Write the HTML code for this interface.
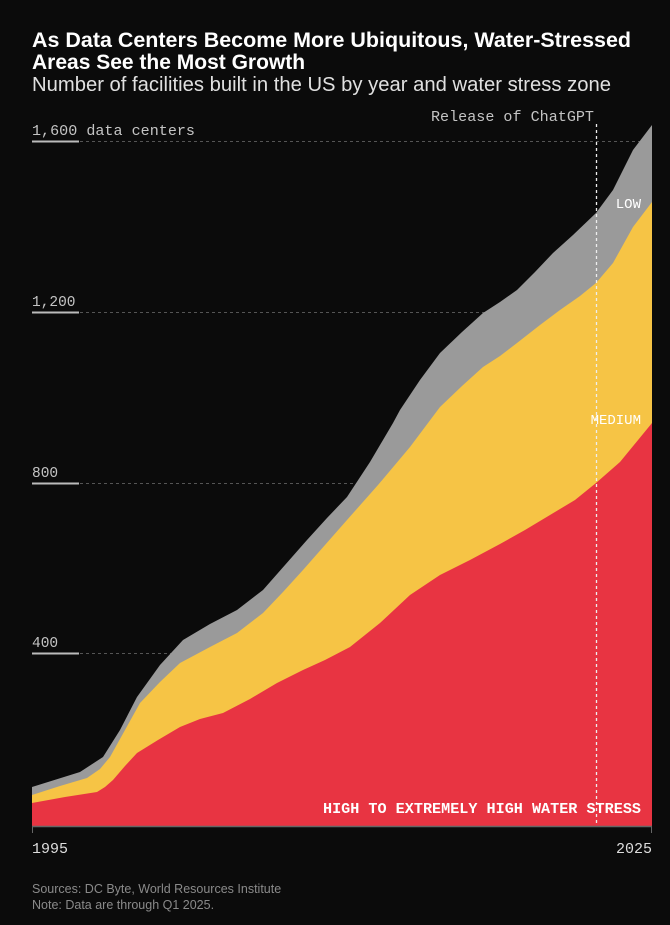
<!DOCTYPE html>
<html><head><meta charset="utf-8"><style>
body{margin:0;background:#0b0b0b;width:670px;height:920px;overflow:hidden;font-family:"Liberation Sans",sans-serif}
</style></head><body>
<svg width="670" height="920" xmlns="http://www.w3.org/2000/svg">
<rect width="670" height="920" fill="#0b0b0b"/>
<text x="32" y="47" fill="#fff" font-size="21" font-weight="bold" font-family="Liberation Sans, sans-serif" textLength="599" lengthAdjust="spacingAndGlyphs">As Data Centers Become More Ubiquitous, Water-Stressed</text>
<text x="32" y="69" fill="#fff" font-size="21" font-weight="bold" font-family="Liberation Sans, sans-serif">Areas See the Most Growth</text>
<text x="32" y="91" fill="#e0e0e0" font-size="20" font-family="Liberation Sans, sans-serif" textLength="579" lengthAdjust="spacingAndGlyphs">Number of facilities built in the US by year and water stress zone</text>
<g stroke="#555" stroke-dasharray="3,3" stroke-width="1">
<line x1="80" y1="141.5" x2="651" y2="141.5"/>
<line x1="80" y1="312.5" x2="651" y2="312.5"/>
<line x1="80" y1="483.5" x2="651" y2="483.5"/>
<line x1="80" y1="653.5" x2="651" y2="653.5"/>
</g>
<g stroke="#bbb" stroke-width="2">
<line x1="32" y1="141.5" x2="79" y2="141.5"/>
<line x1="32" y1="312.5" x2="79" y2="312.5"/>
<line x1="32" y1="483.5" x2="79" y2="483.5"/>
<line x1="32" y1="653.5" x2="79" y2="653.5"/>
</g>
<g fill="#c4c4c4" font-size="14.5" font-family="Liberation Mono, monospace">
<text x="32" y="135" textLength="163" lengthAdjust="spacingAndGlyphs">1,600 data centers</text>
<text x="32" y="306">1,200</text>
<text x="32" y="477">800</text>
<text x="32" y="647">400</text>
<text x="431" y="121" textLength="163" lengthAdjust="spacingAndGlyphs">Release of ChatGPT</text>
</g>
<path fill="#9a9a9a" d="M32,787 L80,772 L103,757 L120,730 L137,697 L160,665 L183,640 L210,624 L237,610 L263,590 L285,565 L307,540 L327,518 L347,497 L370,462 L393,423 L400,410 L420,380 L440,353 L462,332 L483,313 L500,302 L517,290 L535,272 L553,253 L573,235 L596,213 L613,190 L633,150 L652,125 L652,826 L32,826 Z"/>
<path fill="#f6c445" d="M32,795 L60,786 L87,778 L100,769 L110,757 L125,730 L140,703 L160,682 L180,663 L210,647 L237,633 L263,613 L283,592 L303,570 L325,545 L347,520 L378,485 L410,447 L425,427 L440,407 L462,386 L483,367 L500,356 L517,343 L540,325 L560,310 L580,296 L596,283 L613,263 L633,227 L652,202 L652,826 L32,826 Z"/>
<path fill="#e83442" d="M32,803 L65,797 L97,792 L105,787 L113,780 L125,766 L137,753 L158,740 L180,727 L200,719 L223,713 L250,699 L277,683 L303,670 L325,660 L350,647 L380,623 L410,595 L440,575 L470,560 L500,544 L525,530 L550,515 L575,500 L596,483 L620,462 L652,423 L652,826 L32,826 Z"/>
<line x1="596.5" y1="124" x2="596.5" y2="826" stroke="#eee" stroke-width="1.3" stroke-dasharray="3,3"/>
<g fill="#fff" font-family="Liberation Mono, monospace">
<text x="641" y="208" font-size="14" text-anchor="end">LOW</text>
<text x="641" y="424" font-size="14" text-anchor="end">MEDIUM</text>
<text x="323" y="813" font-size="14.5" font-weight="bold" textLength="318" lengthAdjust="spacingAndGlyphs">HIGH TO EXTREMELY HIGH WATER STRESS</text>
</g>
<line x1="32" y1="826.5" x2="652" y2="826.5" stroke="#666" stroke-width="1.5"/>
<line x1="32.5" y1="826" x2="32.5" y2="833" stroke="#666"/>
<line x1="651.5" y1="826" x2="651.5" y2="833" stroke="#666"/>
<g fill="#ddd" font-size="15" font-family="Liberation Mono, monospace">
<text x="32" y="853">1995</text>
<text x="652" y="853" text-anchor="end">2025</text>
</g>
<g fill="#8a8a8a" font-size="12.5" font-family="Liberation Sans, sans-serif">
<text x="32" y="893">Sources: DC Byte, World Resources Institute</text>
<text x="32" y="909">Note: Data are through Q1 2025.</text>
</g>
</svg>
</body></html>
